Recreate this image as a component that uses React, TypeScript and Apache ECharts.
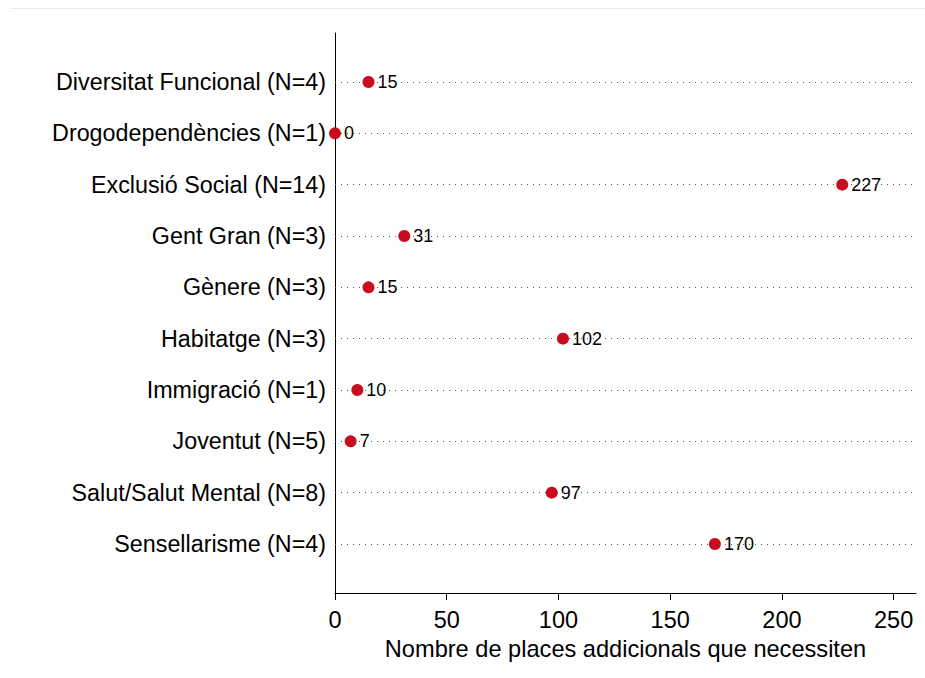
import React, { useEffect, useRef } from "react";
import * as echarts from "echarts";

const categories = [
  "Diversitat Funcional (N=4)",
  "Drogodependències (N=1)",
  "Exclusió Social (N=14)",
  "Gent Gran (N=3)",
  "Gènere (N=3)",
  "Habitatge (N=3)",
  "Immigració (N=1)",
  "Joventut (N=5)",
  "Salut/Salut Mental (N=8)",
  "Sensellarisme (N=4)",
];
const values = [15, 0, 227, 31, 15, 102, 10, 7, 97, 170];
const xTicks = [0, 50, 100, 150, 200, 250];
const xTitle = "Nombre de places addicionals que necessiten";

const FONT = "'Liberation Sans', Arial, sans-serif";

export default function App() {
  const ref = useRef<HTMLDivElement>(null);
  useEffect(() => {
    document.body.style.margin = "0";
    const chart = echarts.init(ref.current!, undefined, { renderer: "svg" });
    const idx = categories.map((_, i) => i);
    chart.setOption({
      animation: false,
      backgroundColor: "#ffffff",
      textStyle: { fontFamily: FONT },
      graphic: [
        {
          type: "line",
          shape: { x1: 10, y1: 8.5, x2: 925, y2: 8.5 },
          style: { stroke: "#e4ecec", lineWidth: 1 },
        },
      ],
      grid: { left: 335, right: 9, top: 33, bottom: 85 },
      xAxis: {
        type: "value",
        min: 0,
        max: 260,
        interval: 50,
        axisLine: { show: true, onZero: false, lineStyle: { color: "#000", width: 1 } },
        axisTick: { show: true, length: 7, customValues: xTicks, lineStyle: { color: "#000" } },
        axisLabel: {
          customValues: xTicks,
          fontSize: 23.5,
          color: "#000",
          margin: 15,
          fontFamily: FONT,
        },
        splitLine: { show: false },
        name: xTitle,
        nameLocation: "middle",
        nameGap: 40,
        nameTextStyle: { fontSize: 23.6, color: "#000", fontFamily: FONT },
      },
      yAxis: {
        type: "value",
        inverse: true,
        min: -0.955,
        max: 9.955,
        axisLine: { show: true, onZero: false, lineStyle: { color: "#000", width: 1 } },
        axisTick: { show: false },
        splitLine: { show: false },
        axisLabel: {
          customValues: idx,
          formatter: (v: number) => categories[Math.round(v)] ?? "",
          fontSize: 23.3,
          color: "#000",
          margin: 9,
          fontFamily: FONT,
        },
      },
      series: [
        {
          type: "scatter",
          data: values.map((v, i) => [v, i]),
          symbol: "circle",
          symbolSize: 12,
          itemStyle: { color: "#cc0a1e", opacity: 1 },
          label: {
            show: true,
            position: "right",
            distance: 3,
            fontSize: 18,
            color: "#000",
            fontFamily: FONT,
            formatter: (p: any) => String(p.value[0]),
          },
          markLine: {
            silent: true,
            symbol: ["none", "none"],
            label: { show: false },
            lineStyle: { color: "#555", type: [1, 5], width: 1 },
            data: idx.map((i) => ({ yAxis: i })),
          },
          z: 3,
        },
      ],
    });
    return () => chart.dispose();
  }, []);
  return <div ref={ref} style={{ width: 925, height: 678 }} />;
}
